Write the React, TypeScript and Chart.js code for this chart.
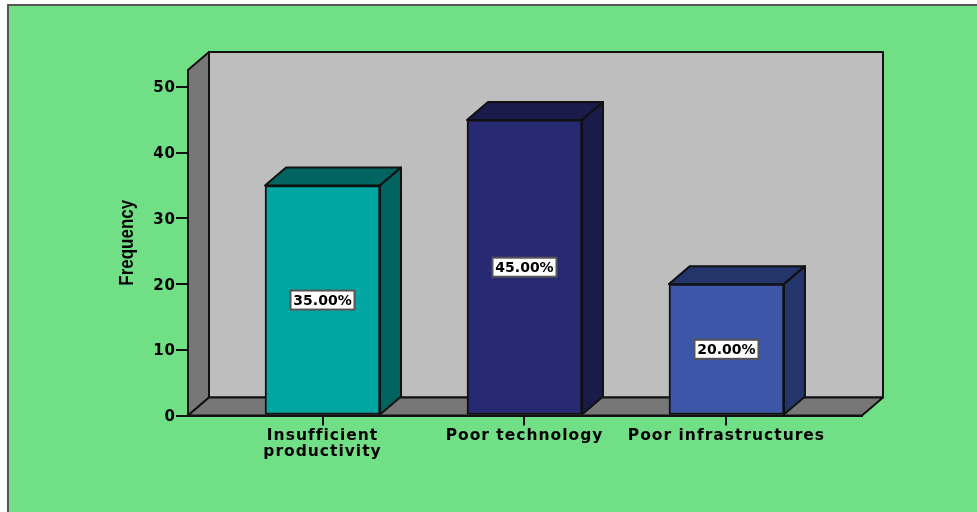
import React, { useEffect, useRef } from "react";
import { Chart, registerables } from "chart.js";

Chart.register(...registerables);

const categories: (string | string[])[] = [["Insufficient", "productivity"], "Poor technology", "Poor infrastructures"];
const positions = [1, 2, 3];
const frequencies = [35, 45, 20];
const percentLabels = ["35.00%", "45.00%", "20.00%"];
const frontColors = ["#00A6A2", "#272A72", "#3C57A8"];
const shadeColors = ["#006461", "#191B4A", "#24356B"];
const yAxisTitle = "Frequency";

const DEPTH_X = 21;
const DEPTH_Y = 18;
const INK = "#111111";

function polygon(ctx: CanvasRenderingContext2D, pts: number[][], fill: string) {
  ctx.beginPath();
  pts.forEach(([x, y], i) => (i ? ctx.lineTo(x, y) : ctx.moveTo(x, y)));
  ctx.closePath();
  ctx.fillStyle = fill;
  ctx.fill();
  ctx.lineWidth = 2;
  ctx.strokeStyle = INK;
  ctx.lineJoin = "round";
  ctx.stroke();
}

// Panel background plus the back wall, side wall and floor of the 3D box.
const roomPlugin = {
  id: "room",
  beforeDraw(chart: any) {
    const { ctx, chartArea: a, width, height } = chart;
    ctx.save();
    ctx.fillStyle = "#71DF85";
    ctx.fillRect(8, 4, width - 8, height - 4);
    ctx.strokeStyle = "#555555";
    ctx.lineWidth = 2;
    ctx.beginPath();
    ctx.moveTo(8, height);
    ctx.lineTo(8, 5);
    ctx.lineTo(width, 5);
    ctx.stroke();
    const bx = a.left + DEPTH_X;
    const rx = a.right + DEPTH_X;
    const ty = a.top - DEPTH_Y;
    const by = a.bottom - DEPTH_Y;
    polygon(ctx, [[bx, ty], [rx, ty], [rx, by], [bx, by]], "#BEBEBE");
    polygon(ctx, [[a.left, a.top], [bx, ty], [bx, by], [a.left, a.bottom]], "#777777");
    polygon(ctx, [[a.left, a.bottom], [bx, by], [rx, by], [a.right, a.bottom]], "#777777");
    ctx.restore();
    // Wide tracking for the tick labels that follow.
    ctx.letterSpacing = "1px";
  },
  // Rotated axis title, stretched across its baseline for a tall condensed look.
  afterDraw(chart: any) {
    const { ctx, chartArea: a } = chart;
    ctx.save();
    ctx.letterSpacing = "0px";
    ctx.translate(127.5, (a.top + a.bottom) / 2);
    ctx.rotate(-Math.PI / 2);
    ctx.scale(1, 1.2);
    ctx.fillStyle = "#000000";
    ctx.font = 'bold 17px "Liberation Sans"';
    ctx.textAlign = "center";
    ctx.textBaseline = "middle";
    ctx.fillText(yAxisTitle, 0, 0);
    ctx.restore();
  },
};

// Top and side faces of every column, sized from the bar elements.
const columnPlugin = {
  id: "columns",
  beforeDatasetsDraw(chart: any) {
    const { ctx } = chart;
    ctx.save();
    chart.getDatasetMeta(0).data.forEach((bar: any, i: number) => {
      const l = bar.x - bar.width / 2;
      const r = bar.x + bar.width / 2;
      polygon(ctx, [[l, bar.y], [l + DEPTH_X, bar.y - DEPTH_Y], [r + DEPTH_X, bar.y - DEPTH_Y], [r, bar.y]], shadeColors[i]);
      polygon(ctx, [[r, bar.y], [r + DEPTH_X, bar.y - DEPTH_Y], [r + DEPTH_X, bar.base - DEPTH_Y], [r, bar.base]], shadeColors[i]);
    });
    ctx.restore();
  },
  afterDatasetsDraw(chart: any) {
    const { ctx } = chart;
    ctx.save();
    chart.getDatasetMeta(0).data.forEach((bar: any, i: number) => {
      const cy = (bar.y + bar.base) / 2;
      ctx.fillStyle = "#FFFFFF";
      ctx.strokeStyle = "#555555";
      ctx.lineWidth = 2;
      ctx.fillRect(bar.x - 32, cy - 9.5, 64, 19);
      ctx.strokeRect(bar.x - 32, cy - 9.5, 64, 19);
      ctx.fillStyle = "#000000";
      ctx.font = 'bold 14px "DejaVu Sans"';
      ctx.letterSpacing = "0px";
      ctx.textAlign = "center";
      ctx.textBaseline = "middle";
      ctx.fillText(percentLabels[i], bar.x, cy + 1);
    });
    ctx.restore();
  },
};

export default function App() {
  const ref = useRef<HTMLCanvasElement>(null);
  useEffect(() => {
    document.body.style.margin = "0";
    const chart = new Chart(ref.current!, {
      type: "bar",
      data: {
        datasets: [
          {
            data: positions.map((x, i) => ({ x, y: frequencies[i] })),
            backgroundColor: frontColors,
            borderColor: INK,
            borderWidth: 2,
            borderSkipped: false,
            barThickness: 115,
          },
        ],
      },
      options: {
        responsive: false,
        animation: false,
        layout: { padding: { top: 70, right: 115, left: 0, bottom: 0 } },
        plugins: { legend: { display: false }, tooltip: { enabled: false } },
        scales: {
          x: {
            type: "linear",
            offset: false,
            min: 0.334,
            max: 3.671,
            afterFit(scale: any) {
              scale.height = 96.5;
            },
            afterBuildTicks(scale: any) {
              scale.ticks = positions.map((value) => ({ value }));
            },
            grid: { offset: false, drawOnChartArea: false, drawTicks: true, tickLength: 10, color: INK, lineWidth: 2 },
            border: { display: true, color: INK, width: 2 },
            ticks: {
              autoSkip: false,
              maxRotation: 0,
              minRotation: 0,
              padding: 2,
              color: "#000000",
              font: { family: "DejaVu Sans", weight: "bold", size: 15.5, lineHeight: 16 / 15.5 },
              callback: (v: any) => categories[Number(v) - 1],
            },
          },
          y: {
            min: 0,
            max: 52.6,
            afterFit(scale: any) {
              scale.width = 188;
            },
            grid: { drawOnChartArea: false, drawTicks: true, tickLength: 12, color: INK, lineWidth: 2 },
            border: { display: true, color: INK, width: 2 },
            ticks: {
              stepSize: 10,
              includeBounds: false,
              padding: 0,
              labelOffset: 1.5,
              color: "#000000",
              font: { family: "DejaVu Sans", weight: "bold", size: 15 },
            },
          },
        },
      },
      plugins: [roomPlugin, columnPlugin],
    } as any);
    return () => chart.destroy();
  }, []);
  return <canvas ref={ref} width={977} height={512} style={{ display: "block" }} />;
}
